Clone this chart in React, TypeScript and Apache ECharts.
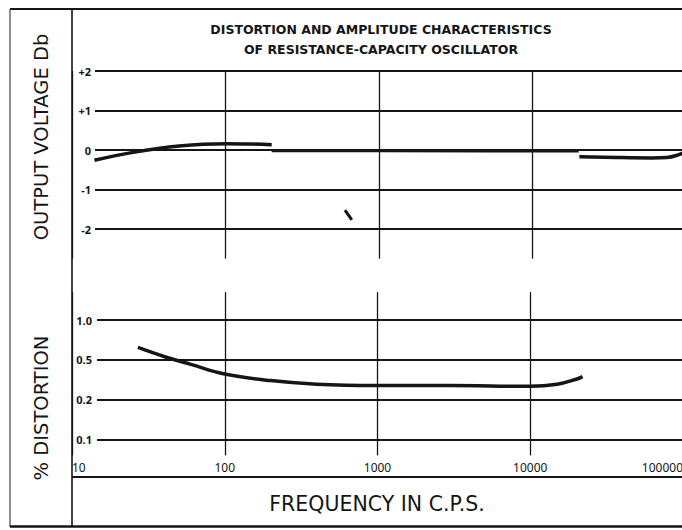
import React, { useEffect, useRef } from "react";
import * as echarts from "echarts";

// Frequency axis (c.p.s.), log decades
const freqMin = 10;
const freqMax = 100000;

// Output voltage (dB) tick values
const voltTicks = [-2, -1, 0, 1, 2];

// % distortion tick values (drawn equally spaced on the original sheet)
const distTicks = [0.1, 0.2, 0.5, 1.0];
const distTickLabels = ["0.1", "0.2", "0.5", "1.0"];

// Output voltage curve, low-frequency piece [freq, dB]
const voltLow = [
  [14, -0.26],
  [25, -0.06],
  [50, 0.1],
  [100, 0.16],
  [150, 0.15],
  [200, 0.13],
];
// Output voltage curve, middle piece (on the 0 dB line)
const voltMid = [
  [200, -0.02],
  [1000, -0.02],
  [5000, -0.03],
  [20000, -0.03],
];
// Output voltage curve, high-frequency piece
const voltHigh = [
  [20200, -0.17],
  [35000, -0.19],
  [60000, -0.2],
  [75000, -0.19],
  [88000, -0.13],
  [100000, -0.04],
];
// Small stray stroke on the original sheet
const voltStray = [
  [600, -1.52],
  [665, -1.77],
];

// % distortion curve [freq, %]
const distortion = [
  [27, 0.62],
  [40, 0.53],
  [60, 0.45],
  [100, 0.36],
  [200, 0.31],
  [400, 0.285],
  [1000, 0.277],
  [3000, 0.277],
  [10000, 0.272],
  [15000, 0.285],
  [20000, 0.32],
  [22000, 0.34],
];

// map a distortion % onto the equally spaced sheet rows
function distPos(v: number): number {
  for (let i = 0; i < distTicks.length - 1; i++) {
    const a = distTicks[i];
    const b = distTicks[i + 1];
    if (v <= b || i === distTicks.length - 2) {
      return i + Math.log(v / a) / Math.log(b / a);
    }
  }
  return 0;
}

const INK = "#151515";
const FONT = "'Noto Sans', 'DejaVu Sans', sans-serif";
const NAME_FONT = "'DejaVu Sans', sans-serif";

export default function App() {
  const ref = useRef<HTMLDivElement>(null);

  useEffect(() => {
    if (!ref.current) return;
    const chart = echarts.init(ref.current, undefined, { renderer: "svg" });

    const left = 72;
    const right = 0; // the canvas is 686 wide, so 100000 sits just off the visible edge

    const logAxisBase = {
      type: "log" as const,
      logBase: 10,
      min: freqMin,
      max: freqMax,
      axisLine: { show: false },
      axisTick: { show: false },
    };

    const curveStyle = {
      type: "line" as const,
      showSymbol: false,
      smooth: 0.4,
      lineStyle: { color: INK, width: 3.5 },
      silent: true,
    };

    const option: any = {
      animation: false,
      backgroundColor: "#ffffff",
      grid: [
        // A: top curves + vertical rules
        { left, right, top: 71, height: 187.6 },
        // B: top horizontal rules + labels
        { left: 95, right, top: 71, height: 158 },
        // C: bottom curve + vertical rules + frequency labels
        { left, right, top: 292.1, height: 163.3 },
        // D: bottom horizontal rules + labels
        { left: 97, right, top: 320, height: 119.5 },
      ],
      xAxis: [
        {
          ...logAxisBase,
          gridIndex: 0,
          axisLabel: { show: false },
          splitLine: { show: true, lineStyle: { color: INK, width: 1.3 } },
        },
        { type: "value", gridIndex: 1, min: 0, max: 1, show: false },
        {
          ...logAxisBase,
          gridIndex: 2,
          axisLabel: {
            show: true,
            color: INK,
            fontSize: 12,
            fontFamily: FONT,
            margin: 6,
            alignMinLabel: "left",
            alignMaxLabel: "right",
            formatter: (v: number) => String(Math.round(v)),
          },
          splitLine: { show: true, lineStyle: { color: INK, width: 1.3 } },
        },
        { type: "value", gridIndex: 3, min: 0, max: 1, show: false },
      ],
      yAxis: [
        { type: "value", gridIndex: 0, min: -2.75, max: 2, show: false },
        {
          type: "value",
          gridIndex: 1,
          min: voltTicks[0],
          max: voltTicks[voltTicks.length - 1],
          interval: 1,
          axisLine: { show: false },
          axisTick: { show: false },
          axisLabel: {
            color: INK,
            fontSize: 11,
            fontWeight: "bold",
            fontFamily: FONT,
            margin: 4,
            formatter: (v: number) => (v > 0 ? "+" + v : String(v)),
          },
          splitLine: { show: true, lineStyle: { color: INK, width: 1.9 } },
        },
        { type: "value", gridIndex: 2, min: -0.4, max: 3.7, show: false },
        {
          type: "value",
          gridIndex: 3,
          min: 0,
          max: distTicks.length - 1,
          interval: 1,
          axisLine: { show: false },
          axisTick: { show: false },
          axisLabel: {
            color: INK,
            fontSize: 11,
            fontWeight: "bold",
            fontFamily: FONT,
            margin: 5,
            formatter: (v: number) => distTickLabels[Math.round(v)] ?? "",
          },
          splitLine: { show: true, lineStyle: { color: INK, width: 1.9 } },
        },
      ],
      series: [
        { ...curveStyle, name: "Output low", xAxisIndex: 0, yAxisIndex: 0, data: voltLow },
        { ...curveStyle, name: "Output mid", xAxisIndex: 0, yAxisIndex: 0, smooth: false, lineStyle: { color: INK, width: 2.8 }, data: voltMid },
        { ...curveStyle, name: "Output high", xAxisIndex: 0, yAxisIndex: 0, data: voltHigh },
        { ...curveStyle, name: "Stray", xAxisIndex: 0, yAxisIndex: 0, smooth: false, lineStyle: { color: INK, width: 3 }, data: voltStray },
        {
          ...curveStyle,
          name: "% Distortion",
          xAxisIndex: 2,
          yAxisIndex: 2,
          data: distortion.map(([f, v]) => [f, distPos(v)]),
        },
      ],
      graphic: [
        // frame
        { type: "line", shape: { x1: 10, y1: 9, x2: 686, y2: 9 }, style: { stroke: INK, lineWidth: 2 } },
        { type: "line", shape: { x1: 10, y1: 9, x2: 10, y2: 527 }, style: { stroke: "#444", lineWidth: 1.2 } },
        { type: "line", shape: { x1: 72, y1: 9, x2: 72, y2: 527 }, style: { stroke: INK, lineWidth: 1.6 } },
        { type: "line", shape: { x1: 10, y1: 526.5, x2: 686, y2: 526.5 }, style: { stroke: INK, lineWidth: 2.5 } },
        { type: "line", shape: { x1: 72, y1: 477, x2: 686, y2: 477 }, style: { stroke: INK, lineWidth: 2 } },
        // title
        {
          type: "text",
          x: 381,
          y: 29,
          style: {
            text: "DISTORTION AND AMPLITUDE CHARACTERISTICS",
            fill: INK,
            font: `bold 12.5px 'DejaVu Sans', sans-serif`,
            textAlign: "center",
            textVerticalAlign: "middle",
          },
        },
        {
          type: "text",
          x: 381,
          y: 49,
          style: {
            text: "OF RESISTANCE-CAPACITY OSCILLATOR",
            fill: INK,
            font: `bold 12.5px 'DejaVu Sans', sans-serif`,
            textAlign: "center",
            textVerticalAlign: "middle",
          },
        },
        // axis names
        {
          type: "text",
          x: 41,
          y: 137,
          rotation: Math.PI / 2,
          style: {
            text: "OUTPUT VOLTAGE Db",
            fill: INK,
            font: `19.5px ${NAME_FONT}`,
            textAlign: "center",
            textVerticalAlign: "middle",
          },
        },
        {
          type: "text",
          x: 41,
          y: 408,
          rotation: Math.PI / 2,
          style: {
            text: "% DISTORTION",
            fill: INK,
            font: `19.5px ${NAME_FONT}`,
            textAlign: "center",
            textVerticalAlign: "middle",
          },
        },
        {
          type: "text",
          x: 377,
          y: 504,
          style: {
            text: "FREQUENCY IN C.P.S.",
            fill: INK,
            font: `20.5px ${NAME_FONT}`,
            textAlign: "center",
            textVerticalAlign: "middle",
          },
        },
      ],
    };

    chart.setOption(option);
    return () => chart.dispose();
  }, []);

  return (
    <div
      ref={ref}
      style={{ position: "fixed", left: 0, top: 0, width: 686, height: 530, background: "#fff" }}
    />
  );
}
